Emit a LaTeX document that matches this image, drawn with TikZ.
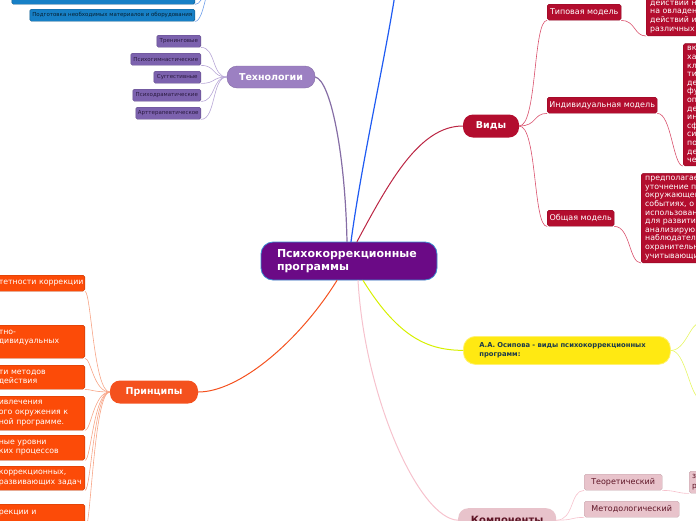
\documentclass[tikz,border=0pt]{standalone}
\usepackage{fontspec}
\setmainfont{DejaVu Sans}
\usetikzlibrary{positioning}
\definecolor{progpurple}{HTML}{6B0A86}
\definecolor{progedge}{HTML}{3A8FD0}
\definecolor{mainblue}{HTML}{1F5BF2}
\definecolor{techlight}{HTML}{9C80C2}
\definecolor{techdark}{HTML}{7C62AE}
\definecolor{techline}{HTML}{B7A6D6}
\definecolor{techtext}{HTML}{2A1A40}
\definecolor{vidred}{HTML}{B30D2E}
\definecolor{vidline}{HTML}{D9506C}
\definecolor{osipyel}{HTML}{FFE912}
\definecolor{osipline}{HTML}{D6F000}
\definecolor{osiptext}{HTML}{1D3B4A}
\definecolor{princor}{HTML}{F4511E}
\definecolor{princbox}{HTML}{FC4B08}
\definecolor{princline}{HTML}{F7A486}
\definecolor{komppink}{HTML}{E8C3CB}
\definecolor{kompline}{HTML}{F6C2CD}
\definecolor{kompterm}{HTML}{5E1526}
\definecolor{prepblue}{HTML}{1780C6}
\definecolor{prepline}{HTML}{6E9FEA}
\tikzset{
  % one branch colour per topic, as in the mind map
  centre/.style   = {fill=progpurple, draw=progedge, line width=0.8pt,
                     rounded corners=12pt, text=white, align=left,
                     font=\bfseries\fontsize{11}{13}\selectfont,
                     inner xsep=16pt, text width=144pt, minimum height=38pt},
  topic/.style    = {rounded corners=10pt, inner sep=0pt, text=white,
                     font=\bfseries\fontsize{9.5}{11}\selectfont},
  techleaf/.style = {fill=techdark, draw=techdark!80!black, line width=0.4pt,
                     rounded corners=1.5pt, inner sep=0pt, anchor=north east,
                     minimum height=12pt, text=techtext,
                     font=\fontsize{5.5}{6.5}\selectfont},
  vidleaf/.style  = {fill=vidred, draw=vidred!80!black, line width=0.4pt,
                     rounded corners=1.8pt, inner sep=0pt, anchor=north west,
                     minimum height=16pt, text=white,
                     font=\fontsize{8}{9.5}\selectfont},
  vidtext/.style  = {fill=vidred, draw=vidred!80!black, line width=0.4pt,
                     rounded corners=1.8pt, anchor=south west, align=left,
                     text width=90pt, inner xsep=4pt, inner ysep=3pt,
                     text=white, font=\fontsize{7.8}{8.6}\selectfont},
  princleaf/.style= {fill=princbox, draw=princbox!75!black, line width=0.4pt,
                     rounded corners=1.8pt, anchor=north east, align=left,
                     text width=84pt, inner xsep=2pt, inner ysep=3pt,
                     text=white, font=\fontsize{7.8}{9.7}\selectfont},
  kompleaf/.style = {fill=komppink, draw=komppink!85!black, line width=0.4pt,
                     rounded corners=1.8pt, inner sep=0pt, anchor=north west,
                     minimum height=16pt, text=kompterm,
                     font=\fontsize{8}{9.5}\selectfont},
  prepleaf/.style = {fill=prepblue, draw=prepblue!70!black, line width=0.4pt,
                     rounded corners=1.5pt, inner sep=0pt, anchor=north east,
                     minimum height=12pt, text=prepblue!25!black,
                     font=\fontsize{5.5}{6.5}\selectfont},
  branch/.style   = {line width=1.2pt, line cap=round},
  twig/.style     = {line width=0.6pt, line cap=round},
}
\begin{document}
\begin{tikzpicture}[x=1pt, y=-1pt]
    \useasboundingbox (0,0) rectangle (696,520);
    \clip (0,0) rectangle (696,520);

    % central topic
    \node[centre] (prog) at (349,261) {Психокоррекционные\\программы};

    % Технологии
    \node[topic, fill=techlight, draw=techlight!85!black, minimum width=88pt,
          minimum height=22pt] (tech) at (271,77) {Технологии};
    \node[techleaf, minimum width=44pt] (trening) at (201,35)  {Тренинговые};
    \node[techleaf, minimum width=70pt] (gimn)    at (201,53)  {Психогимнастические};
    \node[techleaf, minimum width=47pt] (sugg)    at (201,71)  {Суггестивные};
    \node[techleaf, minimum width=68pt] (drama)   at (201,89)  {Психодраматические};
    \node[techleaf, minimum width=65pt] (art)     at (201,107) {Арттерапевтическое};

    % blue branch, its parent lies above the page
    \coordinate (mainup) at (396,-12);
    \coordinate (prepup) at (215,-25);
    \node[prepleaf, minimum width=183pt] (prepa) at (195,-8) {};
    \node[prepleaf, minimum width=165pt] (prepb) at (195,9)
        {Подготовка необходимых материалов и оборудования};

    % Виды
    \node[topic, fill=vidred, minimum width=56pt, minimum height=23pt]
        (vidy) at (491,126) {Виды};
    \node[vidleaf, minimum width=74pt]  (tipm)  at (547,4)   {Типовая модель};
    \node[vidleaf, minimum width=110pt] (indm)  at (547,97)  {Индивидуальная модель};
    \node[vidleaf, minimum width=67pt]  (obshm) at (547,210) {Общая модель};
    \node[vidtext] (tipt) at (646,36)
        {действий на\\на овладени\\действий и\\различных д};
    \node[vidtext] (indt) at (683,166)
        {вк\\ха\\кл\\ти\\де\\фу\\оп\\де\\ин\\сф\\си\\по\\де\\че};
    \node[vidtext] (obsht) at (641,263)
        {предполагает\\уточнение пре\\окружающем\\событиях, о с\\использовани\\для развития\\анализирующ\\наблюдательн\\охранительны\\учитывающий};

    % Осипова
    \node[fill=osipyel, draw=osipyel!60!white, line width=0.8pt,
          rounded corners=12pt, anchor=north west, align=left, text=osiptext,
          text width=175pt, inner xsep=16pt, minimum height=28pt,
          font=\bfseries\fontsize{6.8}{8.6}\selectfont]
        (osip) at (463,336) {А.А. Осипова - виды психокоррекционных\\программ:};
    \coordinate (osipup)   at (700,323);
    \coordinate (osipdown) at (700,398);

    % Принципы
    \node[topic, fill=princor, minimum width=88pt, minimum height=23pt]
        (princ) at (154,392) {Принципы};
    \node[princleaf, minimum height=16pt] (pa) at (85,275) {\mbox{тетности коррекции}};
    \node[princleaf, minimum height=33pt] (pb) at (85,325) {тно-\\дивидуальных\\\mbox{}};
    \node[princleaf, minimum height=24pt] (pc) at (85,365) {ти методов\\действия};
    \node[princleaf, minimum height=34pt] (pd) at (85,396)
        {ивлечения\\ого окружения к\\ной программе.};
    \node[princleaf, minimum height=25pt] (pe) at (85,435) {ные уровни\\ких процессов};
    \node[princleaf, minimum height=24pt] (pf) at (85,466)
        {коррекционных,\\\mbox{развивающих задач}};
    \node[princleaf, minimum height=26pt] (pg) at (85,504) {рекции и\\\mbox{}};

    % Компоненты
    \node[topic, fill=komppink, text=kompterm, anchor=north west,
          minimum width=98pt, minimum height=24pt,
          font=\bfseries\fontsize{10}{12}\selectfont] (komp) at (458,508) {Компоненты};
    \node[kompleaf, minimum width=78pt] (teor)  at (584,474) {Теоретический};
    \node[kompleaf, minimum width=95pt] (metod) at (584,501) {Методологический};
    \node[kompleaf, minimum width=30pt, minimum height=22pt, align=left,
          text width=24pt, font=\fontsize{7.5}{9.5}\selectfont] (teort) at (689,471) {з\\р};

    % main branches
    \draw[branch, mainblue] ([xshift=2pt]prog.north) .. controls (362,160) and (385,60) .. (mainup);
    \draw[branch, techlight!85!black] ([xshift=-2pt]prog.north) .. controls (345,150) and (330,80) .. (tech.east);
    \draw[branch, vidred!90!white, line width=1pt] ([xshift=8pt]prog.north) .. controls (390,180) and (420,126) .. (vidy.west);
    \draw[branch, princor, line width=1pt] ([xshift=-12pt]prog.south) .. controls (300,340) and (240,392) .. (princ.east);
    \draw[branch, osipline, line width=1pt] ([xshift=14pt]prog.south) .. controls (400,340) and (430,350) .. (osip.west);
    \draw[branch, kompline, line width=1pt] ([xshift=9pt]prog.south) .. controls (365,400) and (420,519) .. (komp.west);

    % sub branches
    \foreach \leaf in {trening, gimn, sugg, drama, art}
        \draw[twig, techline] (tech.west) .. controls +(-15,0) and +(15,0) .. (\leaf.south east);
    \foreach \leaf in {prepa, prepb}
        \draw[twig, prepline] (\leaf.south east) .. controls +(10,0) and +(-8,0) .. (prepup);
    \foreach \leaf in {tipm, indm, obshm}
        \draw[twig, vidline] (vidy.east) .. controls +(18,0) and +(-14,0) .. (\leaf.south west);
    \draw[twig, vidline] (tipm.south east)  .. controls +(14,0) and +(-12,0) .. (tipt.south west);
    \draw[twig, vidline] (indm.south east)  .. controls +(14,0) and +(-10,0) .. (indt.south west);
    \draw[twig, vidline] (obshm.south east) .. controls +(16,0) and +(-12,0) .. (obsht.south west);
    \draw[twig, osipline!60!white] (osip.east) .. controls +(15,0) and +(-10,0) .. (osipup);
    \draw[twig, osipline!60!white] (osip.east) .. controls +(15,0) and +(-10,0) .. (osipdown);
    \foreach \leaf in {pa, pb, pc, pd, pe, pf, pg}
        \draw[twig, princline] (princ.west) .. controls +(-16,0) and +(6,0) .. (\leaf.south east);
    \foreach \leaf in {teor, metod}
        \draw[twig, kompline] (komp.east) .. controls +(18,0) and +(-14,0) .. (\leaf.south west);
    \draw[twig, kompline] (teor.south east) .. controls +(14,0) and +(-12,0) .. (teort.south west);
\end{tikzpicture}
\end{document}
